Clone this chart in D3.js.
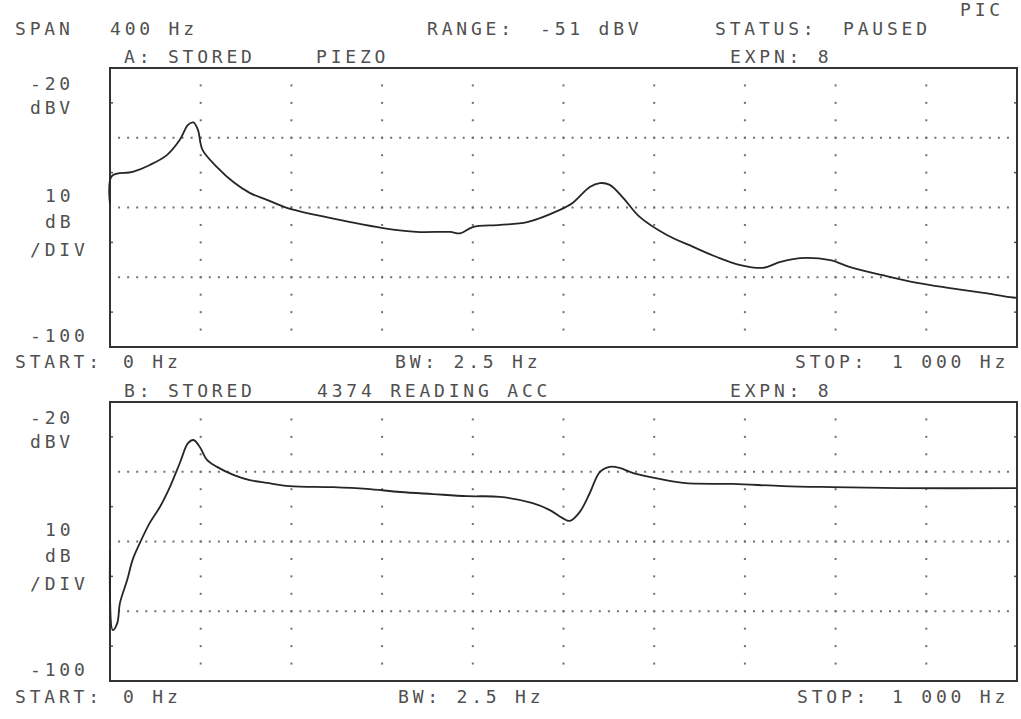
<!DOCTYPE html>
<html>
<head>
<meta charset="utf-8">
<script src="https://cdn.jsdelivr.net/npm/d3@7"></script>
<style>
  html, body { margin: 0; padding: 0; background: #fff; }
  svg { display: block; }
  text { font-family: "DejaVu Sans Mono", "Liberation Mono", monospace; font-size: 18px; fill: #505050; letter-spacing: 3.8px; }
</style>
</head>
<body>
<svg id="chart" width="1021" height="719"></svg>
<script>
// ---- data ----
const freqA = [0, 2, 25, 44, 63, 77, 86, 92, 97, 102, 118, 136, 154, 173, 195, 228, 265, 301, 338, 375, 386, 400, 430, 460, 496, 510, 529, 540, 551, 566, 584, 614, 643, 669, 695, 720, 739, 761, 794, 816, 852, 890, 926, 963, 992, 1000];
const dbA   = [-59, -51, -49.8, -47.8, -44.9, -40.6, -36.3, -35.6, -37.8, -43.5, -48.4, -52.7, -55.8, -57.8, -60.1, -62.2, -64.2, -65.9, -67.0, -67.0, -67.4, -65.6, -65.0, -64.2, -60.7, -58.7, -54.1, -53.0, -53.5, -57.3, -62.7, -67.9, -71.3, -74.2, -76.5, -77.3, -75.6, -74.5, -75.1, -77.1, -79.4, -81.6, -83.1, -84.5, -85.7, -85.9];

const freqB = [0, 3, 8, 11, 19, 25, 33, 44, 55, 66, 77, 86, 92, 99, 107, 118, 136, 154, 173, 198, 246, 283, 320, 356, 394, 430, 466, 485, 499, 507, 518, 529, 540, 551, 562, 577, 595, 632, 687, 742, 797, 871, 1000];
const dbB   = [-62.4, -85.4, -83.4, -77.6, -71.0, -65.2, -60.4, -54.6, -50.1, -44.4, -37.5, -31.8, -30.9, -32.9, -36.6, -38.6, -40.9, -42.4, -43.2, -44.1, -44.4, -44.9, -45.8, -46.4, -47.0, -47.2, -49.0, -51.0, -53.3, -54.1, -51.5, -46.1, -40.1, -38.6, -38.9, -40.4, -41.5, -43.2, -43.5, -44.1, -44.4, -44.7, -44.7];

const freqDomain = [0, 1000];      // Hz
const dbDomain = [-100, -20];      // dBV
const gridFreqs = [100, 200, 300, 400, 500, 600, 700, 800, 900];
const gridDbMajor = [-40, -60, -80];
const edgeTickDb = [-30, -50, -70, -90];

const headerTexts = [
  ["SPAN", 15, 35], ["400 Hz", 110, 35], ["RANGE:", 427, 35], ["-51 dBV", 540, 35],
  ["STATUS:", 715, 35], ["PAUSED", 843, 35], ["PIC", 960, 16]
];
const panelTitlesA = [["A: STORED", 124, 63], ["PIEZO", 316, 63], ["EXPN: 8", 730, 63]];
const panelTitlesB = [["B: STORED", 124, 397], ["4374 READING ACC", 317, 397], ["EXPN: 8", 730, 397]];
const yLabels = [["-20", 30, 22], ["dBV", 30, 46], ["10", 45, 134], ["dB", 45, 160], ["/DIV", 30, 188], ["-100", 30, 274]];
const footerA = [["START:", 15, 368], ["0 Hz", 123, 368], ["BW: 2.5 Hz", 395, 368], ["STOP:", 795, 368], ["1 000 Hz", 892, 368]];
const footerB = [["START:", 15, 703], ["0 Hz", 123, 703], ["BW: 2.5 Hz", 398, 703], ["STOP:", 797, 703], ["1 000 Hz", 892, 703]];

// ---- drawing ----
const svg = d3.select("#chart");

function addTexts(list, dy = 0) {
  list.forEach(([t, x, y]) => svg.append("text").attr("x", x).attr("y", y + dy).text(t));
}

addTexts(headerTexts);
addTexts(panelTitlesA);
addTexts(panelTitlesB);
addTexts(footerA);
addTexts(footerB);

function panel(top, bottom, freqs, dbs) {
  const x = d3.scaleLinear().domain(freqDomain).range([110, 1017]);
  const y = d3.scaleLinear().domain(dbDomain).range([bottom, top]);
  const g = svg.append("g");

  // y labels
  yLabels.forEach(([t, lx, off]) => {
    svg.append("text").attr("x", lx).attr("y", top + off).text(t);
  });

  // horizontal dotted grid (every 10 Hz)
  gridDbMajor.forEach(d => {
    d3.range(10, 1000, 10).forEach(f => {
      g.append("rect").attr("x", x(f) - 1).attr("y", y(d) - 1)
        .attr("width", 2).attr("height", 2).attr("fill", "#707070");
    });
  });
  // vertical dotted grid (every 5 dB)
  gridFreqs.forEach(f => {
    d3.range(-95, -20, 5).forEach(d => {
      g.append("rect").attr("x", x(f) - 1).attr("y", y(d) - 1)
        .attr("width", 2).attr("height", 2).attr("fill", "#707070");
    });
  });
  // small ticks on left and right edges
  edgeTickDb.forEach(d => {
    g.append("line").attr("x1", x(0)).attr("x2", x(0) + 3).attr("y1", y(d)).attr("y2", y(d))
      .attr("stroke", "#555").attr("stroke-width", 1.5);
    g.append("line").attr("x1", x(1000) - 3).attr("x2", x(1000)).attr("y1", y(d)).attr("y2", y(d))
      .attr("stroke", "#555").attr("stroke-width", 1.5);
  });

  // frame
  g.append("rect").attr("x", x(0)).attr("y", y(-20))
    .attr("width", x(1000) - x(0)).attr("height", y(-100) - y(-20))
    .attr("fill", "none").attr("stroke", "#333").attr("stroke-width", 2);

  // trace
  const line = d3.line().x((d, i) => x(freqs[i])).y(d => y(d)).curve(d3.curveCatmullRom.alpha(0.5));
  g.append("path").datum(dbs).attr("d", line)
    .attr("fill", "none").attr("stroke", "#262626").attr("stroke-width", 1.8);
}

panel(68, 347, freqA, dbA);
panel(402, 681, freqB, dbB);
</script>
</body>
</html>
